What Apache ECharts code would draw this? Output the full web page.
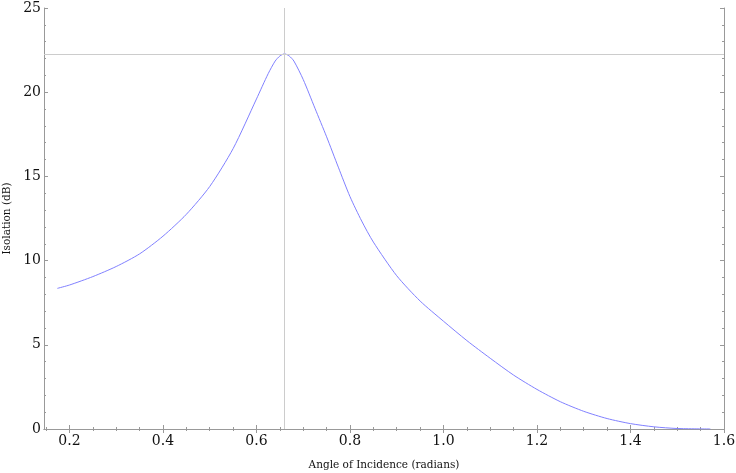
<!DOCTYPE html>
<html>
<head>
<meta charset="utf-8">
<script src="https://cdn.jsdelivr.net/npm/echarts@6/dist/echarts.min.js"></script>
<style>html,body{margin:0;padding:0;background:#fff}#c{width:736px;height:473px}</style>
</head>
<body>
<div id="c"></div>
<script>
var angles = [0.174,0.2,0.25,0.3,0.35,0.4,0.45,0.5,0.55,0.6,0.625,0.64,0.65,0.66,0.67,0.68,0.7,0.725,0.75,0.775,0.8,0.825,0.85,0.9,0.95,1.0,1.05,1.1,1.15,1.2,1.25,1.3,1.35,1.4,1.45,1.5,1.5708];
var isolation = [8.35,8.55,9.05,9.65,10.4,11.45,12.75,14.4,16.65,19.6,21.1,21.85,22.15,22.28,22.15,21.85,20.75,19.05,17.35,15.55,13.8,12.35,11.1,9.1,7.6,6.4,5.25,4.2,3.2,2.35,1.62,1.05,0.62,0.32,0.13,0.03,0];
var xMajorTicks = [0.2,0.4,0.6,0.8,1.0,1.2,1.4,1.6];
var xMinorTicks = [0.15,0.25,0.3,0.35,0.45,0.5,0.55,0.65,0.7,0.75,0.85,0.9,0.95,1.05,1.1,1.15,1.25,1.3,1.35,1.45,1.5,1.55];
var yMajorTicks = [0,5,10,15,20,25];
var yMinorTicks = [1,2,3,4,6,7,8,9,11,12,13,14,16,17,18,19,21,22,23,24];
var peakX = 0.663;
var peakY = 22.28;

var XMIN = 0.1455, XMAX = 1.6, YMIN = 0, YMAX = 25;
var axisCol = '#999';
var font = 'DejaVu Serif';

function xAx(pos, ticks, len, labels, line, name) {
  var a = {
    type: 'value', position: pos, min: XMIN, max: XMAX,
    axisLine: {show: line, lineStyle: {color: axisCol, width: 1}},
    axisTick: {show: true, inside: true, length: len, customValues: ticks, lineStyle: {color: axisCol}},
    axisLabel: {show: labels, customValues: ticks, fontFamily: font, fontSize: 14, color: '#111', margin: 5,
      formatter: function (v) { return v.toFixed(1); }},
    splitLine: {show: false}
  };
  if (name) {
    a.name = name; a.nameLocation = 'middle'; a.nameGap = 31;
    a.nameTextStyle = {fontFamily: font, fontSize: 10.5, color: '#111'};
  }
  return a;
}
function yAx(pos, ticks, len, labels, line, name) {
  var a = {
    type: 'value', position: pos, min: YMIN, max: YMAX,
    axisLine: {show: line, lineStyle: {color: axisCol, width: 1}},
    axisTick: {show: true, inside: true, length: len, customValues: ticks, lineStyle: {color: axisCol}},
    axisLabel: {show: labels, customValues: ticks, fontFamily: font, fontSize: 14, color: '#111', margin: 3},
    splitLine: {show: false}
  };
  if (name) {
    a.name = name; a.nameLocation = 'middle'; a.nameGap = 27;
    a.nameTextStyle = {fontFamily: font, fontSize: 10.5, color: '#111'};
  }
  return a;
}

var chart = echarts.init(document.getElementById('c'));
chart.setOption({
  animation: false,
  backgroundColor: '#fff',
  grid: {left: 44, right: 12, top: 8, bottom: 44, containLabel: false, outerBoundsMode: 'none'},
  xAxis: [
    xAx('bottom', xMajorTicks, 4, true, true, 'Angle of Incidence (radians)'),
    xAx('bottom', xMinorTicks, 2, false, false),
    xAx('top', xMajorTicks, 4, false, true),
    xAx('top', xMinorTicks, 2, false, false)
  ],
  yAxis: [
    yAx('left', yMajorTicks, 4, true, true, 'Isolation (dB)'),
    yAx('left', yMinorTicks, 2, false, false),
    yAx('right', yMajorTicks, 4, false, true),
    yAx('right', yMinorTicks, 2, false, false)
  ],
  series: [{
    type: 'line',
    xAxisIndex: 0, yAxisIndex: 0,
    data: angles.map(function (a, i) { return [a, isolation[i]]; }),
    smooth: 0.25,
    showSymbol: false,
    lineStyle: {color: '#8080ff', width: 1},
    markLine: {
      silent: true, symbol: 'none', label: {show: false},
      lineStyle: {color: '#cccccc', width: 1, type: 'solid'},
      data: [{xAxis: peakX}, {yAxis: peakY}]
    },
    z: 3
  }]
});
</script>
</body>
</html>
